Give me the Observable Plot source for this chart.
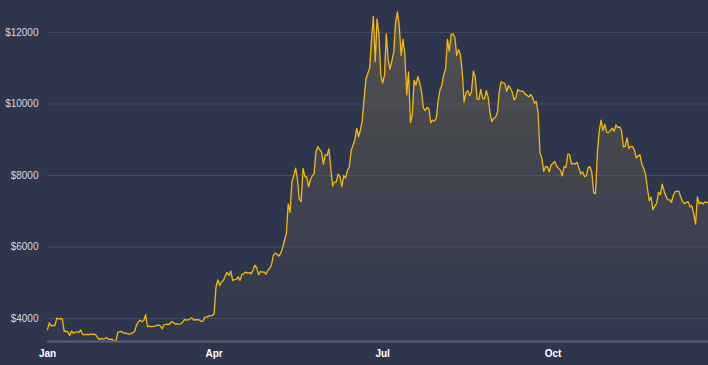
<!DOCTYPE html>
<html>
<head>
<meta charset="utf-8">
<script src="https://cdn.jsdelivr.net/npm/d3@7"></script>
<script src="https://cdn.jsdelivr.net/npm/@observablehq/plot@0.6"></script>
<style>
  html, body { margin: 0; padding: 0; background: #2e364e; }
  #chart { width: 708px; height: 365px; }
</style>
</head>
<body>
<div id="chart"></div>
<script>
// Daily closing price (USD), starting 2019-01-01
const jan = [3690,3880,3790,3810,3800,4010,3990,4000,3990,3640,3650,3620,3525,3650,3590,3610,3630,3610,3680,3550,3540,3560,3545,3560,3560,3565,3545,3470,3410,3445,3420];
const feb = [3440,3470,3420,3415,3420,3380,3366,3620,3625,3640,3590,3595,3580,3560,3575,3600,3630,3800,3900,3950,3910,3945,4110,3770,3790,3770,3780,3790];
const mar = [3805,3815,3790,3712,3830,3835,3845,3840,3915,3890,3845,3850,3840,3850,3895,3975,3955,3960,3990,4020,3955,3965,3970,3960,3916,3930,4040,4040,4070,4075,4080];
const apr = [4140,4880,5080,4923,5036,5059,5198,5289,5205,5325,5064,5089,5097,5167,5067,5235,5251,5299,5268,5285,5248,5357,5493,5416,5219,5315,5295,5307,5238,5350];
const may = [5402,5505,5768,5831,5795,5747,5829,5982,6174,6379,7204,6972,7814,7994,8205,7884,7343,7271,8197,7978,7963,7680,7881,7987,8052,8673,8805,8719,8659,8319,8574];
const jun = [8564,8742,8208,7707,7824,7822,8043,7954,7688,8000,7927,8145,8230,8693,8838,8994,9320,9081,9273,9527,10144,10701,10855,11011,11790,12450,11182,12380,11959,10817];
const jul = [10583,10801,11961,11215,10978,11208,11450,12285,12573,12156,11358,11815,11392,10256,10895,9477,9693,10666,10530,10767,10599,10343,9900,9811,9911,9871,9477,9552,9519,9607,10085];
const aug = [10399,10518,10821,10970,11805,11478,11941,11966,11862,11354,11523,11382,10895,10051,10311,10374,10231,10345,10916,10763,10138,10131,10407,10159,10138,10370,10185,9754,9510,9598,9630];
const sep = [9757,10346,10623,10594,10575,10353,10517,10441,10334,10115,10178,10410,10360,10358,10347,10276,10241,10198,10266,10181,10019,10070,9729,8620,8486,8118,8251,8245,8104,8293];
const oct = [8343,8393,8260,8205,8151,7988,8245,8228,8595,8586,8321,8336,8321,8374,8205,8047,8103,7973,7988,8222,8243,8078,7514,7493,8660,9244,9551,9256,9427,9205,9199];
const nov = [9261,9324,9235,9413,9342,9360,9267,8804,8813,9055,8757,8815,8808,8708,8491,8550,8577,8309,8206,8027,7642,7296,7397,7047,7146,7218,7531,7463,7761,7569];
const dec = [7424,7321,7320,7252,7448,7546,7556,7564,7400,7278,7217,7243,7269,7124,7152,6932,6640,7400,7200,7250,7200,7260,7250,7230];

const yTicks = [4000, 6000, 8000, 10000, 12000];
const xTickDates = ["2019-01-01", "2019-04-01", "2019-07-01", "2019-10-01"];
const yDomain = [3357, 12895];

const data = [];
let t = Date.UTC(2019, 0, 1);
for (const month of [jan, feb, mar, apr, may, jun, jul, aug, sep, oct, nov, dec]) {
  for (const v of month) {
    data.push({date: new Date(t), price: v});
    t += 86400000;
  }
}

const chart = Plot.plot({
  width: 708,
  height: 365,
  marginTop: 0,
  marginLeft: 47,
  marginRight: 0,
  marginBottom: 24,
  style: {background: "#2e364e", fontFamily: "'Liberation Sans', Arial, sans-serif", fontSize: "10px"},
  x: {type: "utc", domain: [data[0].date, data[data.length - 1].date]},
  y: {domain: yDomain},
  marks: [
    Plot.gridY(yTicks, {stroke: "#434b63", strokeOpacity: 1, strokeWidth: 1}),
    Plot.areaY(data, {x: "date", y1: yDomain[0], y2: "price", fill: "url(#areaGrad)"}),
    Plot.lineY(data, {x: "date", y: "price", stroke: "#f5b90a", strokeWidth: 1.3}),
    Plot.ruleY([yDomain[0]], {stroke: "#5a6174", strokeWidth: 2}),
    Plot.axisY(yTicks, {tickSize: 0, tickPadding: 9, tickFormat: d => "$" + d, fill: "#d3d6de", label: null}),
    Plot.axisX(xTickDates.map(d => new Date(d)), {tickSize: 0, tickPadding: 8, tickFormat: d3.utcFormat("%b"), fill: "#ffffff", fontWeight: "bold", label: null})
  ]
});

const svg = d3.select(chart);
const defs = svg.insert("defs", ":first-child");
const grad = defs.append("linearGradient").attr("id", "areaGrad").attr("x1", 0).attr("y1", 0).attr("x2", 0).attr("y2", 1);
grad.append("stop").attr("offset", "0%").attr("stop-color", "#6a6250").attr("stop-opacity", 0.62);
grad.append("stop").attr("offset", "100%").attr("stop-color", "#6a6250").attr("stop-opacity", 0.04);

document.getElementById("chart").appendChild(chart);
</script>
</body>
</html>
